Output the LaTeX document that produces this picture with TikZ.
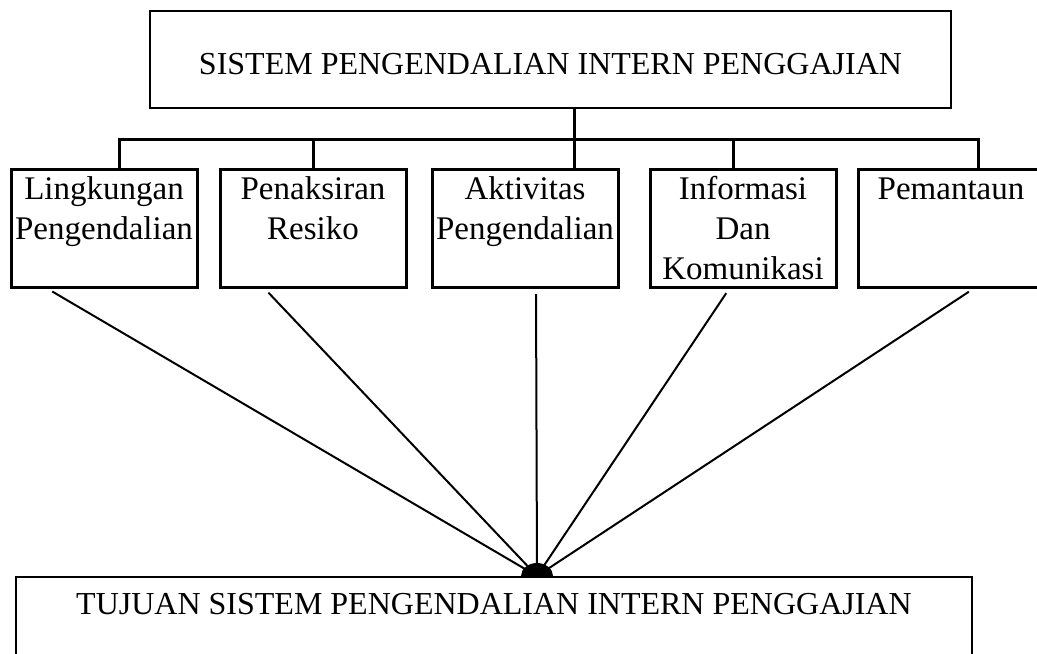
\documentclass[tikz,border=0pt]{standalone}
\usepackage{fontspec}
\setmainfont{Liberation Serif}
\usepackage{xcolor}
\usepackage{tikz}

\begin{document}
\begin{tikzpicture}[
  x=0.5pt, y=-0.5pt,
  box/.style={rectangle, draw=black, line width=1.5pt, inner sep=0pt, align=center, text width=93pt, text height=15pt, text depth=44pt, font=\fontsize{16.5}{20}\selectfont},
  bigbox/.style={rectangle, draw=black, line width=1pt, inner sep=0pt, font=\fontsize{16}{20}\selectfont},
  link/.style={line width=1.5pt, draw=black},
  arrow/.style={line width=1pt, draw=black, shorten <=2.5pt}
]
\useasboundingbox (0,0) rectangle (1037,653);

\node[bigbox, minimum width=400.5pt, text height=31.5pt, text depth=17pt, anchor=north] (spi) at (550.5,10) {SISTEM PENGENDALIAN INTERN PENGGAJIAN};

\node[box, anchor=north] (lingkungan) at (104,168) {Lingkungan\\Pengendalian};
\node[box, anchor=north] (penaksiran) at (313,168) {Penaksiran\\Resiko};
\node[box, anchor=north] (aktivitas) at (525,168) {Aktivitas\\Pengendalian};
\node[box, anchor=north] (informasi) at (743,168) {Informasi\\Dan\\Komunikasi};
\node[box, anchor=north] (pemantaun) at (951,168) {Pemantaun};

\node[bigbox, minimum width=478pt, text height=18.5pt, text depth=50pt, anchor=north] (tujuan) at (494,576) {TUJUAN SISTEM PENGENDALIAN INTERN PENGGAJIAN};

% garis hubung atas
\coordinate (cabang) at (574,139);
\draw[link] (spi.south -| cabang) -- ([xshift=24.5pt]aktivitas.north);
\draw[link] ([xshift=7.5pt]lingkungan.north) |- (cabang) -| ([xshift=13.5pt]pemantaun.north);
\draw[link] (penaksiran.north) -- (penaksiran.north |- cabang);
\draw[link] ([xshift=-5pt]informasi.north) -- ([xshift=-5pt]informasi.north |- cabang);

% garis ke tujuan
\coordinate (titik) at ([xshift=21.5pt]tujuan.north);
\draw[arrow] ([xshift=-28pt]lingkungan.south) -- (titik);
\draw[arrow] ([xshift=-24pt]penaksiran.south) -- (titik);
\draw[arrow] ([xshift=5.5pt]aktivitas.south) -- (titik);
\draw[arrow] ([xshift=-7pt]informasi.south) -- (titik);
\draw[arrow] ([xshift=11pt]pemantaun.south) -- (titik);
\fill ([xshift=-8pt]titik) arc[start angle=180, end angle=0, x radius=8pt, y radius=6.5pt] -- cycle;
\end{tikzpicture}
\end{document}
